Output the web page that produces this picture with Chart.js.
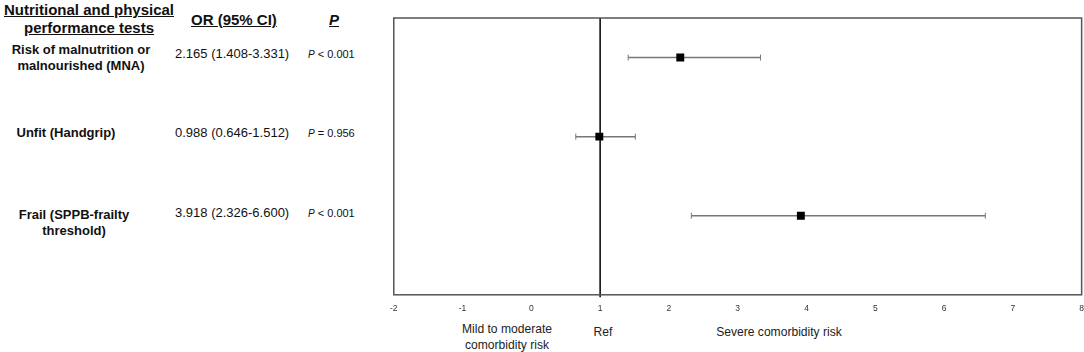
<!DOCTYPE html>
<html>
<head>
<meta charset="utf-8">
<script src="https://cdn.jsdelivr.net/npm/chart.js@4"></script>
<style>
  body{ margin:0; background:#fff; width:1084px; height:352px; position:relative; overflow:hidden; font-family:"Liberation Sans", Arial, sans-serif; color:#111; }
  .t{ position:absolute; white-space:nowrap; }
  .hd{ font-weight:bold; font-size:15px; text-decoration:underline; line-height:18px; text-align:center; }
  .lab{ font-weight:bold; font-size:13px; line-height:16px; text-align:center; }
  .or{ font-size:13px; line-height:16px; }
  .pv{ font-size:11px; line-height:16px; }
  .pv i{ font-size:10px; }
  .ax{ font-size:13px; line-height:16px; text-align:center; color:#222; transform:scaleX(0.93); }
  #wrap{ position:absolute; left:381px; top:0; width:712px; height:352px; }
</style>
</head>
<body>

<div class="t hd" style="left:-1px;top:1px;width:180px;">Nutritional and physical<br>performance tests</div>
<div class="t hd" style="left:191px;top:11px;">OR (95% CI)</div>
<div class="t hd" style="left:329px;top:11px;"><i>P</i></div>

<div id="rows"></div>

<div class="t ax" style="left:447px;top:321px;width:120px;">Mild to moderate<br>comorbidity risk</div>
<div class="t ax" style="left:583px;top:324px;width:40px;">Ref</div>
<div class="t ax" style="left:704px;top:324px;width:150px;">Severe comorbidity risk</div>

<div id="wrap"><canvas id="c"></canvas></div>

<script>
// data
const categories = [['Risk of malnutrition or','malnourished (MNA)'], ['Unfit (Handgrip)'], ['Frail (SPPB-frailty','threshold)']]
const oddsRatio  = [2.165, 0.988, 3.918]
const ciLow      = [1.408, 0.646, 2.326]
const ciHigh     = [3.331, 1.512, 6.600]
const pSign      = ['<', '=', '<']
const pValue     = ['0.001', '0.956', '0.001']
const xTicks     = [-2, -1, 0, 1, 2, 3, 4, 5, 6, 7, 8]
const refValue   = 1

// left side table (text rows)
const labTop    = [42, 125, 207]
const labCenter = [81, 66, 74]
const orTop     = [46, 125, 205]
let html = ''
categories.forEach((c, i)=>{
      html += `<div class="t lab" style="left:${labCenter[i] - 80}px;top:${labTop[i]}px;width:160px;">${c.join('<br>')}</div>`
      html += `<div class="t or" style="left:175px;top:${orTop[i]}px;">${oddsRatio[i].toFixed(3)} (${ciLow[i].toFixed(3)}-${ciHigh[i].toFixed(3)})</div>`
      html += `<div class="t pv" style="left:308px;top:${orTop[i]}px;"><i>P</i> ${pSign[i]} ${pValue[i]}</div>`
})
document.getElementById('rows').innerHTML = html


function getDataSet(){

      const datasets = []

      //squares
      datasets.push({
            type: 'scatter',
            data: oddsRatio.map((v, i)=>({ x: v, y: i + 1 })),
            pointStyle: 'rect',
            pointRadius: 5.6,
            backgroundColor: '#000',
            borderColor: '#000',
            borderWidth: 0,
            order: 0,
      })

      //confidence intervals
      oddsRatio.forEach((v, i)=>{
            datasets.push({
                  type: 'line',
                  data: [{ x: ciLow[i], y: i + 1 }, { x: ciHigh[i], y: i + 1 }],
                  borderColor: '#777',
                  borderWidth: 1.5,
                  pointStyle: 'line',
                  pointRotation: 90,
                  pointRadius: 3,
                  pointBorderColor: '#777',
                  pointBorderWidth: 1,
                  order: 1,
            })
      })

      //reference line
      datasets.push({
            type: 'line',
            data: [{ x: refValue, y: 0.5 }, { x: refValue, y: 4.03 }],
            borderColor: '#111',
            borderWidth: 1.6,
            pointRadius: 0,
            clip: false,
            order: 2,
      })

      return datasets
}


const boxPlugin = {
      id: 'box',
      afterDatasetsDraw(chart){
            const a = chart.chartArea, ctx = chart.ctx
            ctx.save()
            ctx.strokeStyle = '#555'
            ctx.lineWidth = 1.5
            ctx.strokeRect(a.left, a.top, a.right - a.left, a.bottom - a.top)
            ctx.restore()
      }
}


const setup = {
      type: 'scatter',
      data: { datasets: getDataSet() },
      options: {
            responsive: true,
            maintainAspectRatio: false,
            animation: false,
            layout: { padding: { top: 18, left: 7, right: 3, bottom: 29 } },
            plugins: { legend: { display: false }, tooltip: { enabled: false } },
            scales: {
                  x: {
                        type: 'linear',
                        min: xTicks[0],
                        max: xTicks[xTicks.length - 1],
                        afterBuildTicks: (s)=>{ s.ticks = xTicks.map(v=>({ value: v })) },
                        grid: { display: false, drawTicks: false },
                        border: { display: false },
                        ticks: {
                              padding: 9,
                              color: '#333',
                              font: { family: '"Liberation Sans", Arial', size: 8.5 },
                        },
                  },
                  y: {
                        type: 'linear',
                        display: false,
                        reverse: true,
                        min: 0.5,
                        max: 4,
                  },
            },
      },
      plugins: [boxPlugin],
}

new Chart(document.getElementById('c'), setup)
</script>
</body>
</html>
